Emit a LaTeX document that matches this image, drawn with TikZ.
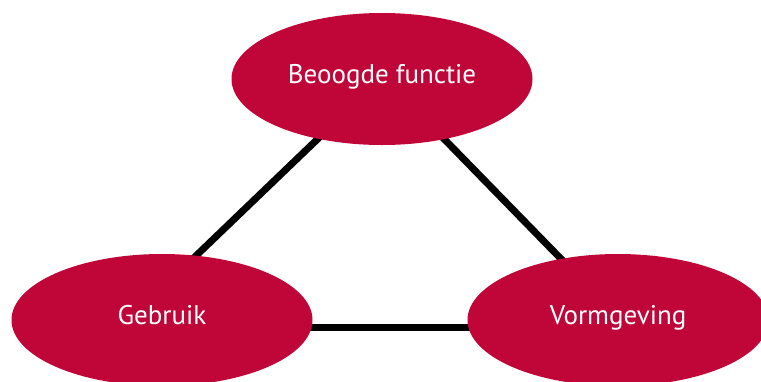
\documentclass[tikz,border=0pt]{standalone}
\usepackage{fontspec}
\setmainfont{PT Sans}
\usepackage{tikz}
\usetikzlibrary{shapes.geometric,backgrounds}
\definecolor{fcrimson}{HTML}{C00538}

\begin{document}
\begin{tikzpicture}[x=1pt,y=-1pt,font=\fontsize{27}{32}\selectfont,
  aspect/.style={ellipse,fill=fcrimson,text=white,inner sep=0pt,
    text height=19pt,text depth=10pt,
    minimum width=301pt,minimum height=132pt},
  tie/.style={line width=7pt,black,shorten <=-5pt,shorten >=-5pt}]

\useasboundingbox (0,0) rectangle (761,381);

% ================= the three aspects =================
\node[aspect] (functie) at (382,79) {Beoogde functie};
\node[aspect] (gebruik) at (162,320) {Gebruik};
\node[aspect] (vorm) at (618,320) {Vormgeving};

% ================= connecting lines, kept behind =================
\begin{scope}[on background layer]
  \draw[tie] (functie.223) -- (gebruik.62);
  \draw[tie] (functie.316) -- (vorm.133);
  \draw[tie] (gebruik.357) -- (vorm.183);
\end{scope}
\end{tikzpicture}
\end{document}
